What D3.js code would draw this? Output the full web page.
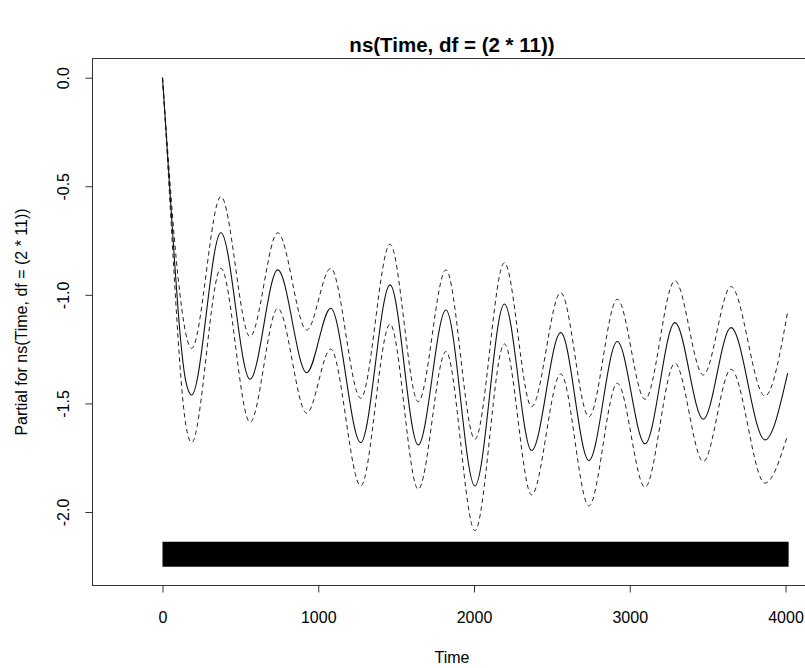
<!DOCTYPE html>
<html><head><meta charset="utf-8">
<script src="https://cdn.jsdelivr.net/npm/d3@7"></script>
<style>
body{margin:0;background:#fff}
svg{display:block}
text{font-family:"Liberation Sans",Arial,sans-serif;fill:#000}
</style>
</head><body>
<svg id="c" width="805" height="668"></svg>
<script>
// ---- data ----
const time  = [0, 25, 50, 75, 100, 125, 150, 187, 375, 562, 740, 926, 1080, 1273, 1461, 1642, 1820, 2006, 2195, 2370, 2557, 2738, 2920, 3098, 3290, 3472, 3650, 3868, 4014];
const fit   = [0, -0.27, -0.55, -0.82, -1.07, -1.27, -1.40, -1.461, -0.714, -1.389, -0.885, -1.358, -1.062, -1.680, -0.954, -1.691, -1.070, -1.880, -1.042, -1.717, -1.174, -1.763, -1.215, -1.686, -1.128, -1.573, -1.151, -1.668, -1.361];
const upper = [0, -0.255, -0.50, -0.73, -0.92, -1.07, -1.18, -1.246, -0.548, -1.192, -0.714, -1.162, -0.878, -1.476, -0.767, -1.492, -0.885, -1.665, -0.852, -1.515, -0.990, -1.561, -1.020, -1.481, -0.935, -1.369, -0.962, -1.466, -1.077];
const lower = [0, -0.29, -0.60, -0.91, -1.20, -1.44, -1.60, -1.680, -0.878, -1.587, -1.062, -1.545, -1.250, -1.880, -1.135, -1.895, -1.261, -2.086, -1.226, -1.921, -1.364, -1.972, -1.407, -1.886, -1.315, -1.768, -1.343, -1.867, -1.645];
const rugTime  = [0, 4020];          // observation range (dense rug)
const rugLevel = [-2.252, -2.137];   // rug vertical extent (data units)
const xTicks = [0, 1000, 2000, 3000, 4000];
const xTickLabels = ["0", "1000", "2000", "3000", "4000"];
const yTicks = [0, -0.5, -1, -1.5, -2];
const yTickLabels = ["0.0", "-0.5", "-1.0", "-1.5", "-2.0"];
const titleText = "ns(Time, df = (2 * 11))";
const xLabel = "Time";
const yLabel = "Partial for ns(Time, df = (2 * 11))";

// ---- layout ----
const svg = d3.select("#c");
svg.append("rect").attr("width", 805).attr("height", 668).attr("fill", "#fff");
const x = d3.scaleLinear().domain([0, 4000]).range([162.5, 785.5]);
const y = d3.scaleLinear().domain([0, -2]).range([77.7, 512]);
const box = {left: 92.5, top: 58.5, right: 813.5, bottom: 585.5};

// plot frame
svg.append("rect")
  .attr("x", box.left).attr("y", box.top)
  .attr("width", box.right - box.left).attr("height", box.bottom - box.top)
  .attr("fill", "none").attr("stroke", "#333").attr("stroke-width", 1);

// x axis
const xAxis = svg.append("g").attr("transform", `translate(0,${box.bottom})`)
  .call(d3.axisBottom(x).tickValues(xTicks).tickSize(7).tickFormat((d, i) => xTickLabels[i]));
xAxis.select(".domain").remove();
xAxis.selectAll(".tick line").attr("stroke", "#333");
xAxis.selectAll(".tick text").attr("y", 0).attr("dy", null).attr("transform", "translate(0,37)")
  .style("font-size", "16px").style("font-family", "'Liberation Sans',Arial,sans-serif").attr("fill", "#000");

// y axis
const yAxis = svg.append("g").attr("transform", `translate(${box.left},0)`)
  .call(d3.axisLeft(y).tickValues(yTicks).tickSize(7).tickFormat((d, i) => yTickLabels[i]));
yAxis.select(".domain").remove();
yAxis.selectAll(".tick line").attr("stroke", "#333");
yAxis.selectAll(".tick text")
  .attr("x", 0).attr("dy", null).attr("text-anchor", "middle")
  .attr("transform", "translate(-24,0) rotate(-90)")
  .style("font-size", "16px").style("font-family", "'Liberation Sans',Arial,sans-serif").attr("fill", "#000");

// rug
svg.append("rect")
  .attr("x", x(rugTime[0])).attr("width", x(rugTime[1]) - x(rugTime[0]))
  .attr("y", y(rugLevel[1])).attr("height", y(rugLevel[0]) - y(rugLevel[1]))
  .attr("fill", "#000");

// curves
const mk = vals => d3.line().x((d, i) => x(time[i])).y(d => y(d)).curve(d3.curveMonotoneX)(vals);
svg.append("path").attr("d", mk(upper)).attr("fill", "none").attr("stroke", "#222")
  .attr("stroke-width", 1).attr("stroke-dasharray", "4.5,3.5");
svg.append("path").attr("d", mk(lower)).attr("fill", "none").attr("stroke", "#222")
  .attr("stroke-width", 1).attr("stroke-dasharray", "4.5,3.5");
svg.append("path").attr("d", mk(fit)).attr("fill", "none").attr("stroke", "#111")
  .attr("stroke-width", 1.1);

// titles
svg.append("text").attr("x", 452).attr("y", 52).attr("text-anchor", "middle")
  .style("font-size", "20.5px").style("font-weight", "bold").text(titleText);
svg.append("text").attr("x", 452).attr("y", 663).attr("text-anchor", "middle")
  .style("font-size", "16px").text(xLabel);
svg.append("text").attr("transform", "translate(27,322) rotate(-90)").attr("text-anchor", "middle")
  .style("font-size", "16px").text(yLabel);
</script>
</body></html>
